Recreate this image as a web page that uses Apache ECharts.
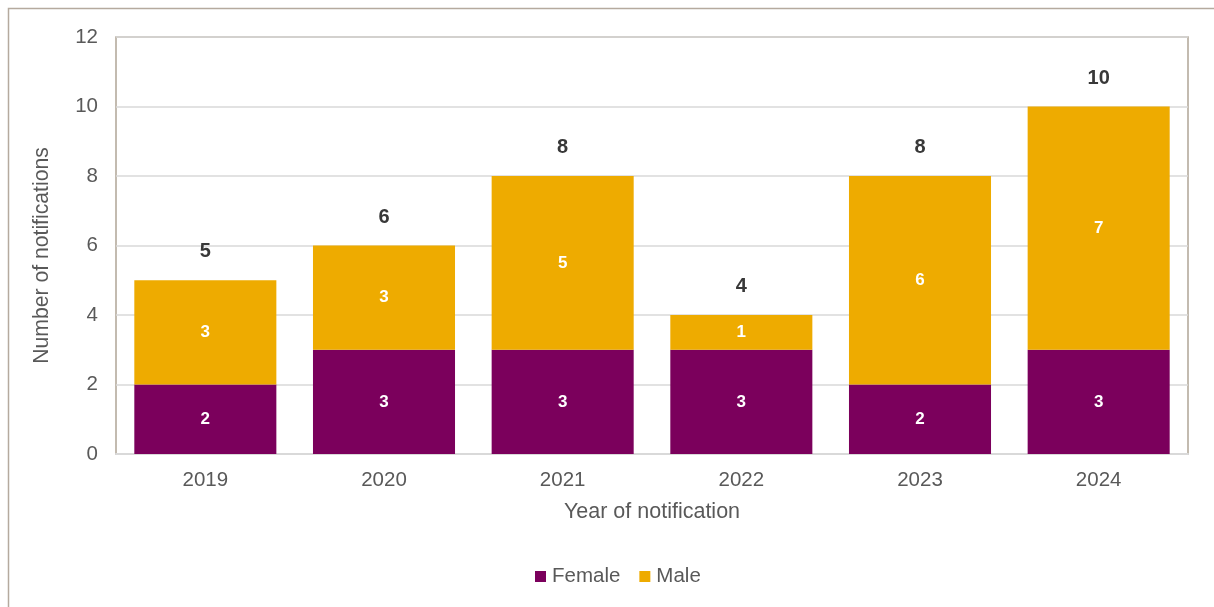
<!DOCTYPE html>
<html>
<head>
<meta charset="utf-8">
<script src="https://cdn.jsdelivr.net/npm/echarts@6/dist/echarts.min.js"></script>
<style>
  html, body { margin: 0; padding: 0; background: #fff; }
  #chart { width: 1214px; height: 607px; }
</style>
</head>
<body>
<div id="chart"></div>
<script>
// Notifications by year and sex
const years = ['2019', '2020', '2021', '2022', '2023', '2024'];
const female = [2, 3, 3, 3, 2, 3];
const male = [3, 3, 5, 1, 6, 7];
const yTicks = { min: 0, max: 12, interval: 2 };

// Stack totals shown above each bar
const totals = female.map((f, i) => f + male[i]);

const FONT = '"Liberation Sans", Arial, sans-serif';
const TEXT = '#595959';
const chart = echarts.init(document.getElementById('chart'));

chart.setOption({
  animation: false,
  textStyle: { fontFamily: FONT },
  graphic: [
    {
      type: 'polyline',
      shape: { points: [[8.5, 607], [8.5, 8.5], [1214, 8.5]] },
      style: { stroke: '#b5aa9e', lineWidth: 1.5, fill: null },
      silent: true
    }
  ],
  grid: {
    left: 116, top: 37, right: 26, bottom: 153,
    show: true, borderColor: '#b0a597', borderWidth: 1.5, backgroundColor: 'transparent'
  },
  legend: {
    bottom: 15,
    left: 530,
    itemWidth: 11, itemHeight: 11, itemGap: 19,
    icon: 'rect',
    textStyle: { fontSize: 20.5, color: TEXT, fontFamily: FONT, padding: [0, 0, 0, 1] },
    data: ['Female', 'Male']
  },
  xAxis: {
    type: 'category',
    data: years,
    name: 'Year of notification',
    nameLocation: 'middle',
    nameGap: 47,
    nameTextStyle: { fontSize: 21.5, color: TEXT },
    axisLine: { lineStyle: { color: '#d9d9d9', width: 2 } },
    axisTick: { show: false },
    axisLabel: { fontSize: 20.5, color: TEXT, margin: 16 }
  },
  yAxis: {
    type: 'value',
    min: yTicks.min, max: yTicks.max, interval: yTicks.interval,
    name: 'Number of notifications',
    nameLocation: 'middle',
    nameGap: 63,
    nameTextStyle: { fontSize: 21.2, color: TEXT, padding: [0, 20, 0, 0] },
    axisLine: { show: false },
    axisTick: { show: false },
    axisLabel: { fontSize: 20.5, color: TEXT, margin: 18 },
    splitLine: { lineStyle: { color: '#d9d9d9', width: 1.5 } }
  },
  series: [
    {
      name: 'Female', type: 'bar', stack: 'sex', data: female,
      barCategoryGap: '20.5%',
      itemStyle: { color: '#7b005c' },
      label: { show: true, position: 'inside', color: '#fff', fontWeight: 'bold', fontSize: 17 }
    },
    {
      name: 'Male', type: 'bar', stack: 'sex', data: male,
      itemStyle: { color: '#eeab00' },
      label: { show: true, position: 'inside', color: '#fff', fontWeight: 'bold', fontSize: 17 }
    },
    {
      name: 'Total', type: 'scatter', data: totals,
      symbolSize: 1,
      itemStyle: { color: 'rgba(255,255,255,0)' },
      silent: true,
      z: 5,
      label: {
        show: true, position: 'top', distance: 18,
        color: '#383838', fontWeight: 'bold', fontSize: 20,
        textBorderWidth: 0, opacity: 1
      }
    }
  ]
});
</script>
</body>
</html>
